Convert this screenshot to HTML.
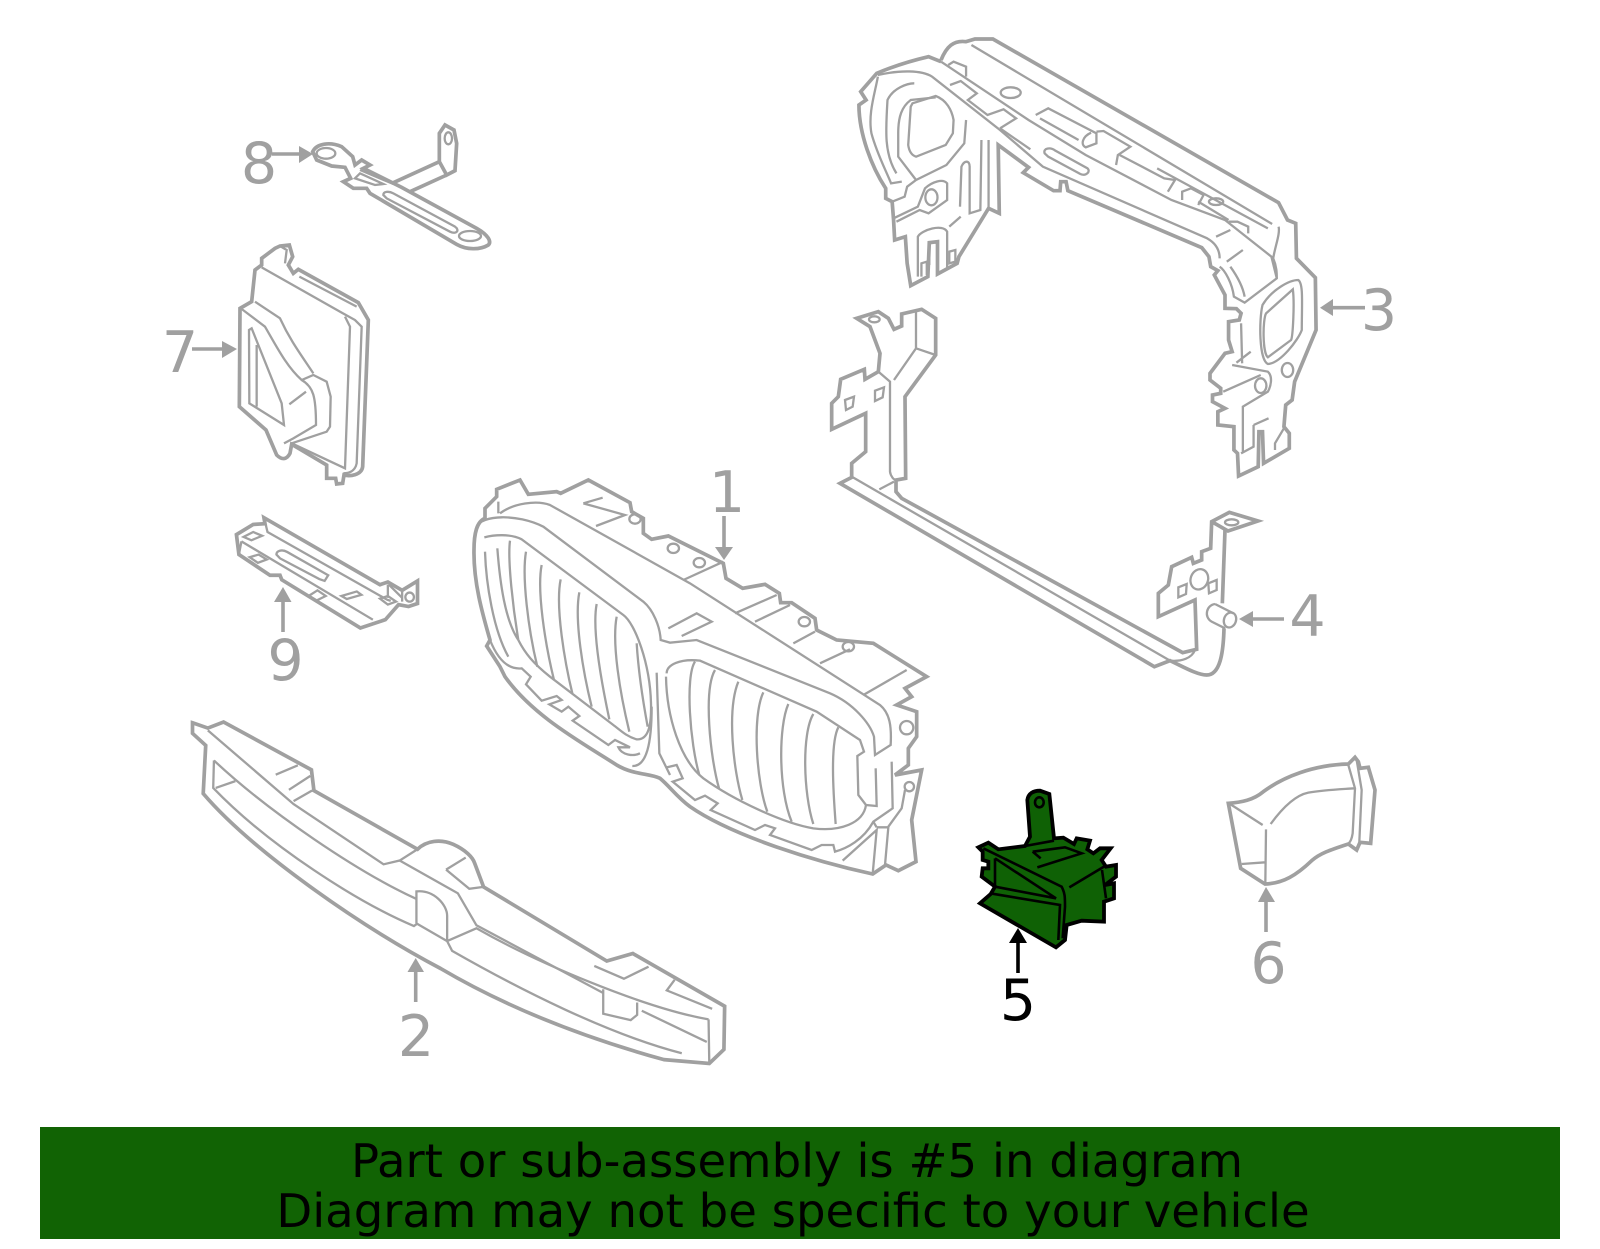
<!DOCTYPE html>
<html><head><meta charset="utf-8"><style>
html,body{margin:0;padding:0;background:#fff}
svg{display:block}
path,ellipse,line{vector-effect:non-scaling-stroke;fill:none;stroke-linejoin:miter}
.g{stroke:#a0a0a0}
.g path,.g ellipse{stroke-width:2.3}
.g path.o{stroke-width:3.7}
.fa{fill:#a0a0a0!important;stroke:none}
.sh{stroke:#a0a0a0;stroke-width:3.6}
text{font-family:"DejaVu Sans","Liberation Sans",sans-serif}
.n{font-size:57px;fill:#a0a0a0;text-anchor:middle}
</style></head><body>
<svg width="1600" height="1249" viewBox="0 0 1600 1249" xmlns="http://www.w3.org/2000/svg">
<rect width="1600" height="1249" fill="#fff"/>

<!-- part 3 -->
<g class="g" transform="translate(800,20) scale(.357143,.333333)">
<path class="o" d="M395,120C410,80 430,60 465,65L490,57L540,57L1340,548L1365,600L1388,610L1390,715L1443,773L1445,930L1385,1085L1378,1140L1360,1155L1355,1220L1370,1240L1370,1285L1298,1330L1295,1235L1285,1235L1283,1340L1228,1368L1225,1300L1215,1290L1215,1220L1170,1215L1170,1175L1190,1165L1155,1145L1155,1125L1178,1120L1178,1105L1148,1080L1148,1060L1190,1000L1210,995L1200,960L1200,905L1230,900L1235,880L1222,866L1190,865L1190,825L1160,765L1170,752L1150,740L1145,710L1125,683L750,512L745,485L730,485L728,512L710,512L625,458L640,442L555,375L558,580L528,565L445,710L440,730L385,762L385,665L362,668L358,770L310,797L300,730L295,650L265,660L262,600L258,545L240,535L240,505C200,440 165,340 165,255L185,240L170,215L215,160Q280,130 360,110L395,125"/>
<path d="M218,165C280,150 340,150 370,170L560,330L680,440L1140,655C1165,670 1175,690 1175,715"/>
<path d="M395,125L640,300L800,405L1040,540L1190,600L1320,710L1335,775"/>
<path d="M480,75L1322,612M1000,445L1310,625M415,135L430,125L465,140L465,170"/>
<path d="M420,195L450,183L495,220L470,240L525,285L570,268L605,295L560,325M560,325L645,388"/>
<ellipse cx="590" cy="218" rx="28" ry="16"/>
<path d="M660,285L695,265L830,340L830,370L800,382C785,375 790,350 815,338M672,295L780,360"/>
<path d="M685,400C680,385 700,380 715,392L805,445C815,455 800,470 785,462L695,410Z"/>
<path d="M830,335L850,333L925,380L890,405L885,435M895,405L1020,475L1050,480L1030,515"/>
<path d="M1070,540L1070,515L1095,505L1130,525L1115,555M1115,545L1200,600"/>
<ellipse cx="1165" cy="545" rx="20" ry="10"/>
<path d="M1200,605L1225,605L1255,620L1255,640M1165,650L1205,630M1195,725L1240,690M1205,740C1225,770 1240,800 1245,830"/>
<path d="M1340,620C1345,640 1330,680 1325,715C1335,740 1335,760 1335,775L1245,848L1215,830C1210,790 1190,750 1175,740"/>
<path d="M1295,855C1320,810 1370,780 1395,780C1410,790 1405,850 1405,930C1395,960 1345,1030 1310,1032C1285,1020 1285,900 1295,855Z"/>
<path d="M1305,880L1380,808C1385,850 1380,950 1375,960L1310,1012C1295,1000 1295,900 1305,880Z"/>
<ellipse cx="1365" cy="1050" rx="16" ry="21"/>
<path d="M1235,910L1238,1030M1222,1028L1262,995M1210,1035L1310,1055C1325,1070 1318,1100 1310,1115L1240,1160L1240,1295M1185,1115L1290,1065"/>
<ellipse cx="1290" cy="1097" rx="16" ry="22"/>
<path d="M1270,1215L1312,1195M1270,1215L1270,1280L1235,1300M1330,1290L1330,1270L1355,1225"/>
<path d="M218,170C210,220 190,280 200,340C215,400 240,450 255,490L285,485M270,460C235,400 240,330 245,240C260,205 300,190 320,190"/>
<path d="M315,250L380,228C410,240 425,270 430,300L428,340L408,375L325,410C310,405 305,390 303,375L310,260Z"/>
<path d="M380,232L310,240C285,260 275,290 275,340L275,410L325,480"/>
<path d="M465,300L460,370L410,435L325,480L300,500L293,530L258,545"/>
<path d="M262,595L330,560L350,505C370,485 400,475 412,490L412,540L360,580L335,570L270,605"/>
<ellipse cx="368" cy="532" rx="17" ry="24"/>
<path d="M448,560L452,440C460,420 475,420 475,440L475,580L505,570L508,360M528,360L528,565M418,620L450,590"/>
<path d="M330,770L330,650C340,630 400,610 412,635L412,745M340,770L340,730L355,725L355,765M362,735L362,670L380,665"/>
<path d="M418,695L435,690L435,725L418,730Z"/>
</g>

<!-- part 4 -->
<g class="g" transform="translate(820,300) scale(.333333)">
<path class="o" d="M175,215L180,160L150,80L110,55L175,35L205,55L222,88L245,78L245,42L305,28L347,55L347,165L255,290L257,535L228,540L228,575L245,595L1088,1058L1130,1048L1125,900L1015,950L1015,880L1045,855L1055,800L1115,772L1120,790L1145,780L1145,755L1172,745L1175,665L1228,637L1314,663L1224,693L1175,665"/>
<path class="o" d="M1215,690L1207,910M1212,985C1210,1060 1200,1125 1160,1125C1130,1125 1080,1095 1050,1082L1003,1100L60,550L95,532L95,490L137,455L137,340L35,388L35,310L55,290L62,238L133,208L135,238L175,215"/>
<path d="M175,215L210,245L210,515C212,530 222,540 228,540M222,240L288,145L347,165M288,145L288,35M178,568L222,545M95,530L1050,1082C1085,1085 1115,1075 1125,1050"/>
<path d="M75,300L102,290L98,320L78,330ZM165,272L192,262L188,292L165,303ZM1075,862L1100,852L1098,882L1075,892ZM1165,850L1190,840L1190,870L1167,880Z"/>
<ellipse cx="1138" cy="838" rx="26" ry="31" transform="rotate(20 1138 838)"/>
<ellipse cx="163" cy="58" rx="16" ry="9"/>
<ellipse cx="1235" cy="667" rx="20" ry="9"/>
<ellipse cx="1230" cy="960" rx="18" ry="23" transform="rotate(20 1230 960)"/>
<path d="M1185,912C1160,915 1150,950 1175,965L1215,985M1185,912L1240,940"/>
</g>

<!-- part 1 -->
<g class="g" transform="translate(450,450) scale(.333333)">
<path class="o" d="M105,205L105,175L140,140L140,118L210,90L235,133L320,125L332,130L415,90L540,158L545,185L580,205L580,250L605,268L655,258L820,340L828,385L878,415L945,403L988,430L992,458L1025,458L1095,505L1100,540L1160,570L1270,580L1430,680L1365,715L1385,740L1340,765L1400,785L1400,860L1375,895L1375,945L1335,975L1415,960L1385,1110L1398,1235L1345,1262L1308,1245L1268,1272C1100,1235 850,1160 720,1070C680,1040 660,1010 630,985C600,970 550,975 500,945C400,880 250,800 165,680L150,650L110,588L120,570C100,500 70,400 72,300C72,250 80,215 105,205Z"/>
<path d="M80,230C95,195 200,190 280,230L580,455C610,480 630,530 632,570L660,578L740,570L1140,730C1210,760 1260,820 1272,860L1275,915L1322,885C1325,830 1320,790 1290,765L720,400L300,165C260,150 190,160 150,190M145,155L145,190"/>
<path d="M400,160L458,143M400,160L525,195L438,228"/>
<ellipse cx="555" cy="207" rx="17" ry="14"/><ellipse cx="670" cy="295" rx="17" ry="14"/><ellipse cx="748" cy="338" rx="17" ry="14"/><ellipse cx="1063" cy="515" rx="17" ry="14"/><ellipse cx="1195" cy="590" rx="17" ry="14"/><ellipse cx="1370" cy="833" rx="20" ry="20"/><ellipse cx="1378" cy="1010" rx="14" ry="14"/>
<path d="M700,390L820,335M855,490L980,435M915,515L1020,465M1030,580L1095,545M1110,640L1200,598M1240,735L1370,660M655,535L740,490L785,515L695,558"/>
<path d="M103,262C130,255 180,250 215,268L520,495C555,520 600,640 603,760C605,840 590,870 560,868C530,860 510,840 490,825L300,680C250,640 225,610 205,570"/>
<path d="M105,305C108,400 130,540 175,620M142,295C150,400 165,510 205,570M180,272C172,330 190,480 205,570M228,305C215,380 235,540 262,650M275,345C260,420 285,580 312,690M332,388C315,470 345,640 367,730M388,427C372,510 400,670 425,770M440,462C425,540 455,700 478,808M500,500C485,580 510,730 538,845M560,580C565,660 580,760 593,830"/>
<path d="M120,570C140,620 170,660 215,655L242,680L228,703L275,752L320,738L335,750L298,763L335,785L355,770L388,798L368,812L475,885L495,870L540,892L505,892C515,915 550,920 570,910"/>
<path d="M620,668L628,910L660,975M605,770C605,880 590,950 547,948"/>
<path d="M650,670C650,645 690,625 750,632L1100,785L1230,870L1242,905L1222,918L1225,1035L1248,1065L1280,1068L1277,955"/>
<path d="M648,680C650,800 690,930 760,985C850,1050 1000,1120 1090,1135C1170,1145 1240,1120 1248,1065"/>
<path d="M735,635C705,680 720,880 748,975M795,660C760,720 780,920 807,1015M865,695C830,780 850,960 877,1050M940,727C905,800 920,1000 952,1085M1015,762C985,830 985,1020 1025,1115M1090,792C1055,850 1060,1030 1090,1122M1165,832C1140,880 1150,1030 1157,1122"/>
<path d="M650,952L680,945L698,985L668,995L735,1050L765,1037L803,1060L782,1080L915,1140L945,1125L975,1135L960,1155L1085,1200L1115,1185L1150,1185L1155,1205C1190,1195 1240,1170 1270,1115L1328,1075L1325,935"/>
<path d="M1178,1232L1280,1140L1268,1272M1280,1132L1315,1132L1305,1245M1315,1130L1355,1075L1365,1020M1270,1115L1280,1132"/>
</g>

<!-- parts 2, 9 -->
<g class="g" transform="translate(180,500) scale(.357143,.376364)">
<path class="o" d="M35,592L78,606L122,590L368,717L375,772L665,928C690,905 730,900 765,915C800,930 820,950 825,965L850,1028L1195,1225L1268,1205L1525,1345L1523,1460L1482,1497L1355,1487C1100,1420 900,1340 730,1245C500,1130 200,930 65,780L72,652L35,620Z"/>
<path d="M78,612L318,808L570,968L615,958L665,928M615,958L778,1045L830,1130L1185,1310"/>
<path d="M95,692L93,765C250,920 500,1070 655,1132L665,1125M95,692C250,830 500,990 662,1060M100,765L155,747"/>
<path d="M268,730L330,705M305,770L365,733M318,800L370,772M745,982L800,950M745,982L810,1033L850,1028"/>
<path d="M662,1125L662,1040C710,1035 748,1075 748,1105L748,1172L662,1125M748,1172L830,1138C1000,1230 1300,1350 1480,1380M748,1172L762,1198C950,1300 1200,1420 1405,1470"/>
<path d="M1185,1300L1185,1365L1262,1382L1280,1368L1280,1335M1160,1238L1243,1272L1312,1240M1385,1275L1363,1303L1490,1352M1293,1357L1475,1440M1480,1380L1482,1497"/>
<path class="o" d="M158,92L205,65L238,63L235,47L560,225L582,218L622,240L665,215L665,275L640,283L612,278L575,318L505,340L285,212L280,200L252,200L165,145Z"/>
<path d="M172,110L540,318M240,65L245,85L580,265L590,268M172,110L165,145M178,98L205,85L230,95L200,107ZM195,152L220,145L243,158L218,167ZM360,255L385,240L408,255L380,268ZM452,255L495,243L508,252L467,263ZM560,262L582,255L605,270L582,278Z"/>
<path d="M270,145C270,135 285,130 300,138L415,200L405,215L390,210L280,155ZM582,225L582,260M585,225L622,260L622,240M622,260L622,270"/>
<ellipse cx="643" cy="258" rx="12" ry="12"/>
</g>

<!-- parts 7, 8 -->
<g class="g" transform="translate(160,110) scale(.333333)">
<path class="o" d="M240,595L275,575L285,480L305,465L305,445L345,415L360,408L388,405L398,440L385,465L400,490L415,478L595,578L625,630L608,1070C605,1095 570,1100 552,1095L548,1120L530,1122L527,1105L500,1105L500,1065L395,1003L390,1030C380,1050 365,1050 350,1035L318,960L238,890Z"/>
<path d="M305,472L545,608L585,630L605,650L590,1060C585,1085 565,1090 550,1090M418,500L590,590M555,620L570,650L555,1075L395,1000"/>
<path d="M245,597L315,650C350,710 380,770 425,810L460,795L500,815L512,860L510,950L500,965L395,1000M285,575L360,625C390,690 420,730 460,790M425,810C460,830 468,860 468,945L400,985L372,1000"/>
<path d="M267,660L275,655L365,880L372,945L268,880ZM290,705L290,890M388,883L438,845M360,408L380,420L375,460"/>
<path class="o" d="M458,125C470,100 510,95 545,110L578,140L585,165L605,150L630,165L610,175L725,232L950,355C985,375 995,395 985,405C960,420 920,420 890,403L630,250L620,235L580,235L550,215L572,205L555,172L515,168L470,150Z"/>
<path class="o" d="M700,218L838,155L838,70L855,45L882,60L890,100L885,182L860,195L838,155M860,195L750,245"/>
<ellipse cx="865" cy="85" rx="11" ry="18"/>
<ellipse cx="498" cy="130" rx="28" ry="16"/>
<path d="M670,255C670,245 685,242 700,250L885,350C900,360 890,375 870,365L680,265Z"/>
<ellipse cx="930" cy="378" rx="33" ry="15"/>
<path d="M585,205L600,190L670,222L645,225ZM600,180L700,222"/>
</g>

<!-- part 6 -->
<g class="g" transform="translate(1180,740) scale(.333333)">
<path class="o" d="M145,190C185,187 220,180 250,155C310,110 400,75 505,72L525,52L535,65L540,85L565,82L585,150L572,310L540,307L530,330L505,312C450,330 420,340 395,362C350,405 310,430 255,432L182,385Z"/>
<path d="M150,192L248,255M258,268L256,430M185,372L256,367M272,252C310,200 350,165 385,158C430,150 480,148 522,145M505,75L525,145L518,280C515,300 510,305 505,312M530,60L545,150L538,305"/>
</g>

<!-- part 5 -->
<g transform="translate(950,770) scale(.333333)">
<path style="fill:#0f6105;stroke:#000;stroke-width:3.8" d="M90,400L122,372L135,350L95,320L98,295L115,295L115,275L98,270L98,245L85,232L115,218L145,238L225,228L240,200L232,90C235,70 250,62 270,62L298,72L312,205L340,203L372,222L380,205L420,212L412,238L430,250L450,235L482,235L455,270L468,290L498,285L498,320L465,345L492,340L492,385L462,395L462,455L395,452L350,465L345,510L318,532Z"/>
<path style="stroke:#000;stroke-width:2.6" d="M100,235L335,350C345,370 345,380 345,410L338,505M135,265L135,350L318,385L135,265M120,370L330,405L325,510M248,245L345,232L395,250L262,292M248,245L272,265M358,352L462,290M456,300L468,385M225,228L312,212"/>
<ellipse cx="268" cy="97" rx="13" ry="15" style="stroke:#000;stroke-width:2.6"/>
</g>

<!-- arrows -->
<g>
<line class="sh" x1="724" y1="516" x2="724" y2="552"/><path class="fa" d="M715,547H733L724,560Z"/>
<line class="sh" x1="415.700" y1="1002" x2="415.700" y2="972"/><path class="fa" d="M407.500,972H424L415.700,958Z"/>
<line class="sh" x1="1365" y1="307.700" x2="1332" y2="307.700"/><path class="fa" d="M1333,299V316L1320,307.700Z"/>
<line class="sh" x1="1284" y1="619" x2="1250" y2="619"/><path class="fa" d="M1253,611V627L1239,619Z"/>
<line style="stroke:#000;stroke-width:3.6" x1="1018" y1="973" x2="1018" y2="942"/><path style="fill:#000;stroke:none" d="M1009,943H1027L1018,928Z"/>
<line class="sh" x1="1266" y1="932" x2="1266" y2="902"/><path class="fa" d="M1258,902H1275L1266,887Z"/>
<line class="sh" x1="192" y1="349" x2="224" y2="349"/><path class="fa" d="M222,341V358L237,349Z"/>
<line class="sh" x1="272" y1="154" x2="300" y2="154"/><path class="fa" d="M299,146V163L313,154Z"/>
<line class="sh" x1="283" y1="632" x2="283" y2="600"/><path class="fa" d="M274,602H291.500L283,587Z"/>
</g>

<!-- numbers -->
<text class="n" x="727" y="512">1</text>
<text class="n" x="416" y="1056">2</text>
<text class="n" x="1379" y="330">3</text>
<text class="n" x="1307.500" y="636">4</text>
<text class="n" x="1018" y="1020" style="fill:#000">5</text>
<text class="n" x="1268.500" y="983">6</text>
<text class="n" x="180" y="372">7</text>
<text class="n" x="259" y="183">8</text>
<text class="n" x="285.500" y="680">9</text>

<!-- banner -->
<rect x="40" y="1127" width="1520" height="112" fill="#116304"/>
<text x="797" y="1177" font-size="46.600" text-anchor="middle" fill="#000">Part or sub-assembly is #5 in diagram</text>
<text x="793" y="1227" font-size="46.600" text-anchor="middle" fill="#000">Diagram may not be specific to your vehicle</text>
</svg>
</body></html>
